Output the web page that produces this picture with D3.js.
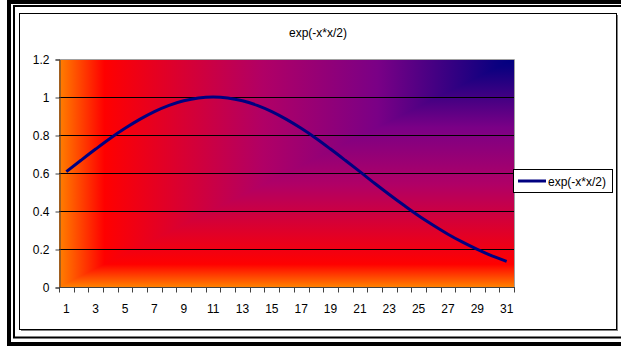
<!DOCTYPE html>
<html><head><meta charset="utf-8">
<script src="https://cdn.jsdelivr.net/npm/d3@7"></script>
<style>html,body{margin:0;padding:0;background:#fff;}svg{display:block;}</style>
</head><body>
<script>
const title = "exp(-x*x/2)";
const seriesName = "exp(-x*x/2)";
const categories = d3.range(1, 32).map(String);
const values = [0.607,0.667,0.726,0.783,0.835,0.882,0.923,0.956,0.980,0.995,1.000,0.995,0.980,0.956,0.923,0.882,0.835,0.783,0.726,0.667,0.607,0.546,0.487,0.430,0.375,0.325,0.278,0.236,0.198,0.164,0.135];
const yTicks = [0,0.2,0.4,0.6,0.8,1,1.2];
const xTickLabels = categories.filter((d,i)=>i%2===0);

const W=621,H=347;
const svg=d3.select("body").append("svg").attr("width",W).attr("height",H);
const font="Liberation Sans, Arial, sans-serif";

// outer double frame
svg.append("rect").attr("x",9).attr("y",2).attr("width",W+10).attr("height",342).attr("fill","none").attr("stroke","#000").attr("stroke-width",4);
svg.append("rect").attr("x",14).attr("y",6).attr("width",W+10).attr("height",331.5).attr("fill","none").attr("stroke","#000").attr("stroke-width",2);
// chart area with shadow
svg.append("rect").attr("x",21).attr("y",15).attr("width",597).attr("height",316).attr("fill","#808080");
svg.append("rect").attr("x",19.5).attr("y",13.5).attr("width",597).attr("height",316).attr("fill","#fff").attr("stroke","#000").attr("stroke-width",1);

const L=59,R=514,T=59,B=287;
const x=d3.scaleBand().domain(categories).range([L,R]).padding(0);
const y=d3.scaleLinear().domain([0,1.2]).range([B,T]);

const defs=svg.append("defs");
const stops=[[0,"#ff8000"],[0.1,"#ff0000"],[0.45,"#b00066"],[0.7,"#7a0086"],[0.96,"#0c0080"],[1,"#000080"]];
const gh=defs.append("linearGradient").attr("id","gh").attr("gradientUnits","userSpaceOnUse")
  .attr("x1",L).attr("y1",0).attr("x2",R).attr("y2",0);
const gv=defs.append("linearGradient").attr("id","gv").attr("gradientUnits","userSpaceOnUse")
  .attr("x1",0).attr("y1",B).attr("x2",0).attr("y2",T);
stops.forEach(s=>{gh.append("stop").attr("offset",s[0]).attr("stop-color",s[1]);gv.append("stop").attr("offset",s[0]).attr("stop-color",s[1]);});

svg.append("rect").attr("x",L).attr("y",T).attr("width",R-L).attr("height",B-T).attr("fill","url(#gv)");
svg.append("path").attr("d",`M${L},${B}L${L},${T}L${R},${T}Z`).attr("fill","url(#gh)");

// gridlines
svg.append("g").selectAll("line").data(yTicks.filter(d=>d>0&&d<1.2)).join("line")
  .attr("x1",L).attr("x2",R).attr("y1",d=>Math.round(y(d))+0.5).attr("y2",d=>Math.round(y(d))+0.5)
  .attr("stroke","#000").attr("stroke-width",1);
// plot border top/right
svg.append("path").attr("d",`M${L},${T+0.5}H${R+0.5}V${B}`).attr("fill","none").attr("stroke","#a0a0a0");

// axes
const yAxis=svg.append("g").attr("transform",`translate(${L+0.5},0.5)`)
  .call(d3.axisLeft(y).tickValues(yTicks).tickSize(4).tickPadding(6).tickFormat(d=>String(+d.toFixed(1))));
const xAxis=svg.append("g").attr("transform",`translate(0,${B+0.5})`);
xAxis.append("line").attr("x1",L).attr("x2",R+1).attr("stroke","#404040");
xAxis.selectAll("line.t").data(d3.range(0,32)).join("line").attr("class","t")
  .attr("x1",i=>Math.round(L+i*x.bandwidth())+0.5).attr("x2",i=>Math.round(L+i*x.bandwidth())+0.5)
  .attr("y1",0).attr("y2",5).attr("stroke","#404040");
xAxis.selectAll("text").data(xTickLabels).join("text")
  .attr("x",d=>x(d)+x.bandwidth()/2).attr("y",25).attr("text-anchor","middle")
  .attr("font-family",font).attr("font-size",12).attr("fill","#000").text(d=>d);
yAxis.selectAll("path.domain").attr("stroke","#404040");
yAxis.selectAll(".tick line").attr("stroke","#404040");
yAxis.selectAll("text").attr("font-family",font).attr("font-size",12).attr("fill","#000");

// line
const line=d3.line().x((d,i)=>x(categories[i])+x.bandwidth()/2).y(d=>y(d)).curve(d3.curveMonotoneX);
svg.append("path").datum(values).attr("d",line).attr("fill","none").attr("stroke","#000080").attr("stroke-width",3);

// title
svg.append("text").attr("x",318).attr("y",37).attr("text-anchor","middle").attr("font-family",font).attr("font-size",12).text(title);

// legend
const lg=svg.append("g");
lg.append("rect").attr("x",513.5).attr("y",169.5).attr("width",99).attr("height",23).attr("fill","#fff").attr("stroke","#000");
lg.append("line").attr("x1",518).attr("x2",546).attr("y1",181).attr("y2",181).attr("stroke","#000080").attr("stroke-width",3);
lg.append("text").attr("x",548).attr("y",185.5).attr("font-family",font).attr("font-size",12).text(seriesName);
</script>
</body></html>
